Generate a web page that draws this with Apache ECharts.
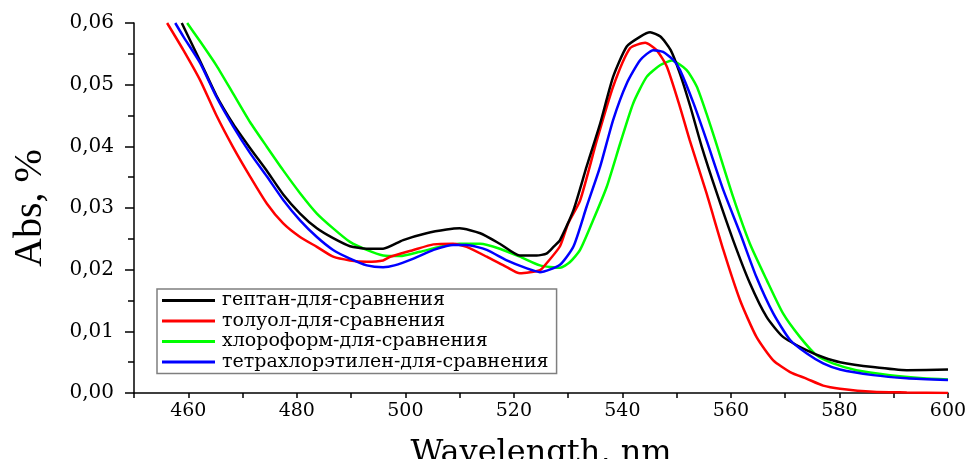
<!DOCTYPE html>
<html>
<head>
<meta charset="utf-8">
<script src="https://cdn.jsdelivr.net/npm/echarts@6/dist/echarts.min.js"></script>
<style>html,body{margin:0;padding:0;background:#fff;}#c{width:971px;height:459px;}</style>
</head>
<body>
<div id="c"></div>
<script>
// Series names
const names = ['гептан-для-сравнения','толуол-для-сравнения','хлороформ-для-сравнения','тетрахлорэтилен-для-сравнения'];
const colors = ['#000000','#ff0000','#00ff00','#0000ff'];

// Heptane (black)
const heptaneX = [458.8,462.2,465.2,468.3,471.4,474.5,477.5,480.6,483.7,486.7,489.8,492.9,495.9,499.6,503.9,507.6,510,513.8,517.4,521.1,524.2,526,527.3,528.5,531,533.4,535.9,538.3,540.8,543.3,545.1,547,548.9,550.6,552.5,554.6,557.4,560.4,563.5,566.6,569.6,574,577,580.1,586.2,592.4,600];
const heptaneY = [0.0600,0.0538,0.0482,0.0436,0.0397,0.0360,0.0322,0.0291,0.0267,0.0251,0.0238,0.0234,0.0234,0.0248,0.0259,0.0265,0.0267,0.0259,0.0242,0.0223,0.0223,0.0226,0.0237,0.0248,0.0297,0.0367,0.0437,0.0513,0.0562,0.0578,0.0585,0.0578,0.0556,0.0518,0.0465,0.0400,0.0324,0.0248,0.0178,0.0123,0.0091,0.0069,0.0058,0.0050,0.0042,0.0037,0.0038];

// Toluene (red)
const tolueneX = [456.1,459.1,462.2,465.2,468.3,471.4,474.5,477.5,480.6,483.7,486.7,489.8,492.9,495.9,497.2,501.5,505.2,508.8,511.3,515,518.7,521.1,524.8,526,528.5,530,532.2,535.3,538.3,541.4,544.2,546.3,548.2,550.6,552.4,555.5,558.6,561.7,564.7,567.8,570.9,574,577,580.1,586.2,592.4,600];
const tolueneY = [0.0600,0.0556,0.0507,0.0450,0.0398,0.0351,0.0307,0.0275,0.0253,0.0237,0.0221,0.0215,0.0213,0.0215,0.0221,0.0232,0.0241,0.0242,0.0237,0.0221,0.0204,0.0194,0.0199,0.0210,0.0238,0.0275,0.0312,0.0410,0.0497,0.0559,0.0568,0.0556,0.0529,0.0464,0.0410,0.0324,0.0232,0.0150,0.0091,0.0053,0.0034,0.0023,0.0012,0.0007,0.0002,0.0001,0.0000];

// Chloroform (green)
const chloroformX = [459.8,462.2,465.2,468.3,471.4,474.5,477.5,480.6,483.7,486.7,489.8,492.9,495.9,499,502.7,506.4,510,513.8,517.4,521.1,524.8,528.5,530.3,532.2,534.6,537.1,539.6,542,544.5,547,549.1,551.8,553.7,555.5,557.1,560.4,563.5,566.6,569.6,572.7,575.8,578.8,583.1,589.3,595.4,600];
const chloroformY = [0.0600,0.0570,0.0531,0.0485,0.0439,0.0399,0.0361,0.0324,0.0291,0.0267,0.0245,0.0232,0.0223,0.0222,0.0229,0.0237,0.0242,0.0242,0.0234,0.0221,0.0207,0.0203,0.0212,0.0232,0.0280,0.0334,0.0405,0.0470,0.0513,0.0532,0.0539,0.0524,0.0497,0.0453,0.0410,0.0318,0.0242,0.0183,0.0129,0.0091,0.0061,0.0048,0.0037,0.0029,0.0024,0.0022];

// Tetrachloroethylene (blue)
const tetraX = [457.6,459.1,462.2,465.2,468.3,471.4,474.5,477.5,480.6,483.7,486.7,489.8,492.9,495.9,498,501.5,505.2,508.8,511.3,515,518.7,522.4,524.8,528.5,531,533.4,535.9,538.3,540.8,543.3,545.7,547.5,549.4,550.6,553.1,555.5,558.6,561.7,564.7,567.8,570.9,574,577,580.1,586.2,592.4,600];
const tetraY = [0.0600,0.0578,0.0535,0.0480,0.0432,0.0389,0.0351,0.0313,0.0280,0.0253,0.0232,0.0218,0.0207,0.0204,0.0207,0.0218,0.0232,0.0240,0.0240,0.0232,0.0215,0.0202,0.0196,0.0208,0.0238,0.0302,0.0367,0.0443,0.0502,0.0540,0.0556,0.0553,0.0540,0.0524,0.0470,0.0410,0.0329,0.0259,0.0188,0.0129,0.0086,0.0064,0.0048,0.0038,0.0029,0.0024,0.0021];

const xTicks = [460,480,500,520,540,560,580,600];

const xs = [heptaneX, tolueneX, chloroformX, tetraX];
const ys = [heptaneY, tolueneY, chloroformY, tetraY];
const zip = (a,b) => a.map((v,i)=>[v,b[i]]);

const chart = echarts.init(document.getElementById('c'), null, {renderer:'canvas'});
chart.setOption({
  animation:false,
  backgroundColor:'#ffffff',
  grid:{left:134,right:23,top:23,bottom:66,containLabel:false,outerBoundsMode:'none'},
  legend:{
    show:true,
    orient:'vertical',
    left:157, top:289,
    data:names,
    icon:'rect',
    itemWidth:53, itemHeight:3,
    itemGap:1.5,
    padding:[2,8,2,5],
    borderColor:'#7f7f7f', borderWidth:1.5,
    backgroundColor:'#ffffff',
    selectedMode:false,
    textStyle:{fontFamily:'DejaVu Serif',fontSize:19,lineHeight:18,color:'#000',padding:[0,0,0,2]}
  },
  xAxis:{
    type:'value', min:450, max:600, interval:10,
    name:'Wavelength, nm', nameLocation:'middle', nameGap:45,
    nameTextStyle:{fontFamily:'DejaVu Serif',fontSize:32,color:'#000'},
    axisLine:{show:true,onZero:false,lineStyle:{color:'#000',width:1.5}},
    axisTick:{show:true,length:5,lineStyle:{color:'#000',width:1.5}},
    axisLabel:{margin:9,fontFamily:'DejaVu Serif',fontSize:19,color:'#000',
      formatter:v=> xTicks.indexOf(Math.round(v))>=0 ? String(Math.round(v)) : ''},
    splitLine:{show:false}
  },
  yAxis:{
    type:'value', min:0, max:0.06, interval:0.01,
    name:'Abs, %', nameLocation:'middle', nameGap:84, nameRotate:90,
    nameTextStyle:{fontFamily:'Liberation Serif',fontSize:40,color:'#000'},
    axisLine:{show:true,onZero:false,lineStyle:{color:'#000',width:1.5}},
    axisTick:{show:true,length:9,lineStyle:{color:'#000',width:1.5}},
    minorTick:{show:true,splitNumber:2,length:6,lineStyle:{color:'#000',width:1.5}},
    axisLabel:{margin:20,fontFamily:'DejaVu Serif',fontSize:20,color:'#000',
      formatter:v=>v.toFixed(2).replace('.',',')},
    splitLine:{show:false}
  },
  series: names.map((n,i)=>({
    name:n, type:'line', data:zip(xs[i],ys[i]),
    showSymbol:false, symbol:'none', smooth:0.2, clip:true,
    lineStyle:{color:colors[i],width:2.5}, itemStyle:{color:colors[i]},
    z: [4,3,2,5][i]
  }))
});
</script>
</body>
</html>
